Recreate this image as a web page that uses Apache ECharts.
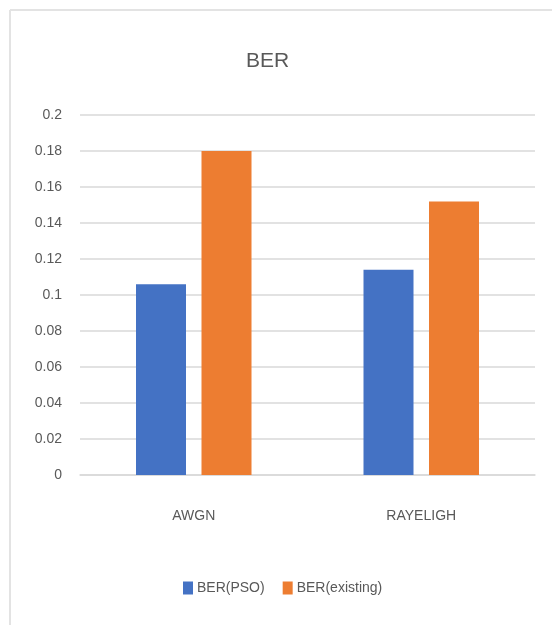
<!DOCTYPE html>
<html>
<head>
<meta charset="utf-8">
<style>
  html, body { margin: 0; padding: 0; background: #ffffff; }
  #chart { width: 552px; height: 625px; }
</style>
<script src="https://cdn.jsdelivr.net/npm/echarts@6/dist/echarts.min.js"></script>
</head>
<body>
<div id="chart"></div>
<script>
// Channel models on the category axis
const channels = ['AWGN', 'RAYELIGH'];
// Bit error rate per channel
const berPso = [0.106, 0.114];
const berExisting = [0.180, 0.152];
// Value axis range and step
const yMin = 0;
const yMax = 0.2;
const yStep = 0.02;

const textColor = '#595959';
const gridColor = '#d9d9d9';
const fontFamily = '"Liberation Sans", Arial, sans-serif';

const chart = echarts.init(document.getElementById('chart'), null, { renderer: 'canvas' });

chart.setOption({
  backgroundColor: '#ffffff',
  animation: false,
  title: {
    text: 'BER',
    left: 246,
    top: 51,
    padding: 0,
    textStyle: { color: textColor, fontSize: 21, fontWeight: 'normal', fontFamily: fontFamily }
  },
  legend: {
    data: ['BER(PSO)', 'BER(existing)'],
    left: 178,
    top: 576,
    itemWidth: 10,
    itemHeight: 13,
    itemGap: 18,
    icon: 'rect',
    textStyle: { color: textColor, fontSize: 14, fontFamily: fontFamily, padding: [0, 0, 0, -1] }
  },
  grid: { left: 80, right: 17, top: 115, bottom: 150, containLabel: false },
  xAxis: {
    type: 'category',
    data: channels,
    axisLine: { show: true, lineStyle: { color: gridColor, width: 1.5 } },
    axisTick: { show: false },
    axisLabel: { color: textColor, fontSize: 14, fontFamily: fontFamily, margin: 34 }
  },
  yAxis: {
    type: 'value',
    min: yMin,
    max: yMax,
    interval: yStep,
    axisLine: { show: false },
    axisTick: { show: false },
    axisLabel: { color: textColor, fontSize: 14, fontFamily: fontFamily, margin: 18 },
    splitLine: { lineStyle: { color: gridColor, width: 1.5 } }
  },
  series: [
    {
      name: 'BER(PSO)',
      type: 'bar',
      data: berPso,
      barWidth: 50,
      barGap: '31%',
      itemStyle: { color: '#4472C4' }
    },
    {
      name: 'BER(existing)',
      type: 'bar',
      data: berExisting,
      barWidth: 50,
      itemStyle: { color: '#ED7D31' }
    }
  ],
  graphic: [
    {
      type: 'line',
      shape: { x1: 10, y1: 10, x2: 552, y2: 10 },
      style: { stroke: '#e3e3e3', lineWidth: 2 },
      silent: true
    },
    {
      type: 'line',
      shape: { x1: 10, y1: 10, x2: 10, y2: 625 },
      style: { stroke: '#e3e3e3', lineWidth: 2 },
      silent: true
    }
  ]
});
</script>
</body>
</html>
